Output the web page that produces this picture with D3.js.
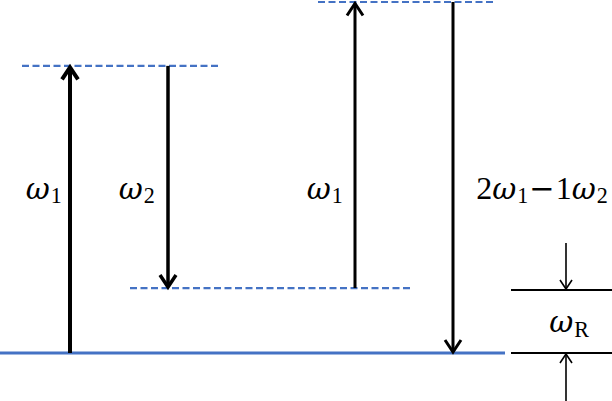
<!DOCTYPE html>
<html><head><meta charset="utf-8">
<script src="https://cdn.jsdelivr.net/npm/d3@7"></script>
<style>html,body{margin:0;padding:0;background:#fff;}</style>
</head><body>
<svg id="c" width="612" height="401"></svg>
<script>
// Energy levels (normalized energy, x extent in px-units)
const levelNames = ["ground", "lowerVirtual", "virtual1", "virtual2"];
const levelEnergy = [0, 0.185, 0.818, 1.0];
const levelX0 = [0, 130, 22, 318];
const levelX1 = [505, 413, 220, 496];
const levelDashed = [false, true, true, true];

// Transitions: from level -> to level, at x position
const transLabels = ["ω1", "ω2", "ω1", "2ω1−1ω2"];
const transX = [70, 168, 355, 453];
const transFrom = [0, 2, 1, 3];
const transTo = [2, 1, 3, 0];
const transWidth = [4, 3.5, 3, 3];

// Raman shift bracket
const ramanLevels = [0, 1];

const svg = d3.select("#c");
const x = d3.scaleLinear().domain([0, 612]).range([0, 612]);
const y = d3.scaleLinear().domain([0, 1]).range([353, 2]);
const blue = "#4472C4";

// levels
levelEnergy.forEach((e, i) => {
  svg.append("line")
    .attr("x1", x(levelX0[i])).attr("x2", x(levelX1[i]))
    .attr("y1", y(e)).attr("y2", y(e))
    .attr("stroke", blue)
    .attr("stroke-width", levelDashed[i] ? 2.2 : 3)
    .attr("stroke-dasharray", levelDashed[i] ? "7,3.5" : null);
});

function arrowHead(g, xp, yp, dir, w, h, sw) {
  // dir = -1 up, +1 down; tip at (xp, yp)
  g.append("path")
    .attr("d", `M${xp - w},${yp - dir * h} L${xp},${yp} L${xp + w},${yp - dir * h}`)
    .attr("fill", "none").attr("stroke", "#000")
    .attr("stroke-width", sw).attr("stroke-linecap", "butt").attr("stroke-linejoin", "miter");
}

transX.forEach((tx, i) => {
  const y0 = y(levelEnergy[transFrom[i]]);
  const y1 = y(levelEnergy[transTo[i]]);
  const dir = y1 > y0 ? 1 : -1;
  const sw = transWidth[i];
  svg.append("line")
    .attr("x1", x(tx)).attr("x2", x(tx))
    .attr("y1", y0).attr("y2", y1 - dir * 1.5)
    .attr("stroke", "#000").attr("stroke-width", sw);
  arrowHead(svg, x(tx), y1 + (dir > 0 ? -1 : 1.5), dir, 8, 12, sw);
});

// labels
function label(str, xp, yp, anchor, size, subDy) {
  const t = svg.append("text").attr("x", xp).attr("y", yp)
    .attr("text-anchor", anchor)
    .style("font-family", "Liberation Serif, serif")
    .attr("font-size", size).attr("fill", "#000");
  const chars = Array.from(str);
  let prevOmega = false;
  chars.forEach(ch => {
    if (ch === "ω") {
      t.append("tspan").style("font-family", "DejaVu Serif, serif")
        .attr("font-style", "italic").attr("font-size", size * 0.92).text(ch);
      prevOmega = true;
    } else if (/[0-9R]/.test(ch) && prevOmega) {
      t.append("tspan").attr("font-size", size * 0.69).attr("dy", subDy).attr("dx", 1).text(ch);
      t.append("tspan").attr("font-size", 1).attr("dy", -subDy).text("\u200A");
      prevOmega = false;
    } else if (ch === "−") {
      t.append("tspan").style("font-family", "DejaVu Serif, serif")
        .attr("font-size", size * 0.95).attr("dx", 1).text(ch);
      t.append("tspan").attr("font-size", 1).attr("dx", 1).text("\u200A");
      prevOmega = false;
    } else {
      t.append("tspan").text(ch);
      prevOmega = false;
    }
  });
  return t;
}
const labelX = [62, 155, 343, 608];
labelX.forEach((lx, i) => label(transLabels[i], x(lx), 199, "end", 32, 4));

// Raman shift bracket on the right
const bx0 = 511, bx1 = 612, bArrowX = 566;
ramanLevels.forEach(li => {
  const yy = li === 0 ? y(levelEnergy[0]) : 290;
  svg.append("line").attr("x1", x(bx0)).attr("x2", x(bx1))
    .attr("y1", yy).attr("y2", yy).attr("stroke", "#000").attr("stroke-width", 2);
});
const yTop = 290, yBot = y(levelEnergy[0]);
svg.append("line").attr("x1", bArrowX).attr("x2", bArrowX)
  .attr("y1", 243).attr("y2", yTop - 1).attr("stroke", "#000").attr("stroke-width", 1.6);
arrowHead(svg, bArrowX, yTop - 1, 1, 6, 9, 1.6);
svg.append("line").attr("x1", bArrowX).attr("x2", bArrowX)
  .attr("y1", 401).attr("y2", yBot + 1).attr("stroke", "#000").attr("stroke-width", 1.6);
arrowHead(svg, bArrowX, yBot + 1, -1, 6, 9, 1.6);
label("ωR", x(589), 332, "end", 32, 5);
</script>
</body></html>
